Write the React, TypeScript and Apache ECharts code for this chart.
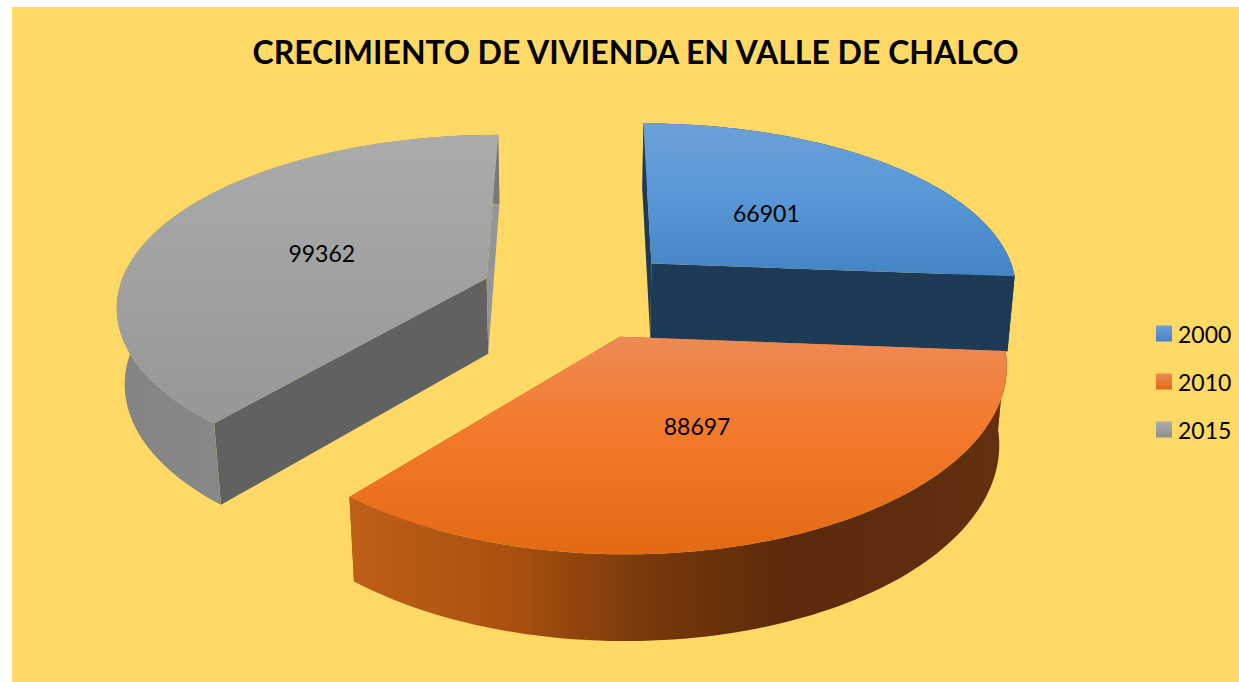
import React, { useEffect, useRef } from "react";
import * as echarts from "echarts";

const TITLE = "CRECIMIENTO DE VIVIENDA EN VALLE DE CHALCO";
const YEARS = ["2000", "2010", "2015"];
const HOUSING = [66901, 88697, 99362];

const FONT = "Lato, Carlito, 'Open Sans', sans-serif";

// Camera of the 3-D pie
const VIEW = { cx: 583, cy: 340, focal: 2367, sinT: 0.469, cosT: 0.883 };
const PIE = { ox: -3.5, oy: -103, radiusX: 383, radiusY: 391, bulge: 0.017, explode: 104, thickness: 90 };
const LABEL_AT = [0.465, 0.515, 0.49];
const LABEL_NUDGE = [[0, -2], [-8, -5], [-3, 2]];

type Stop = [number, string];
const TOP_COLORS: Stop[][] = [
  [[0, "#6CA0D9"], [0.5, "#5797D6"], [1, "#4484C4"]],
  [[0, "#EE8A55"], [0.43, "#F37A2B"], [1, "#E26A14"]],
  [[0, "#ABABAB"], [1, "#979797"]],
];
const WALL_COLORS: Stop[][] = [
  [[0, "#1D3A56"], [1, "#1D3A56"]],
  [[0, "#BF5F18"], [0.25, "#A9500F"], [0.45, "#78390B"], [0.67, "#5A2A0A"], [1, "#633010"]],
  [[0, "#848484"], [0.6, "#8C8C8C"], [1, "#787878"]],
];
const CUT_START = ["#1D3A56", "#A9500F", "#616161"];
const CUT_END = ["#1D3A56", "#A9500F", "#959595"];
const LEGEND_COLORS: [string, string][] = [
  ["#6CA0D9", "#4484C4"],
  ["#EE8A55", "#E26A14"],
  ["#ABABAB", "#8F8F8F"],
];

function project(x: number, y: number, z: number): [number, number] {
  const { cx, cy, focal, sinT, cosT } = VIEW;
  const depth = focal - y * cosT - z * sinT;
  return [cx + (focal * x) / depth, cy + (focal * (y * sinT - z * cosT)) / depth];
}

function grad(horizontal: boolean, a: number, b: number, stops: Stop[]) {
  return new echarts.graphic.LinearGradient(
    horizontal ? a : 0,
    horizontal ? 0 : a,
    horizontal ? b : 0,
    horizontal ? 0 : b,
    stops.map(([offset, color]) => ({ offset, color })),
    true
  );
}

function renderSlice(index: number) {
  return (_params: any, api: any) => {
    const value = api.value(0);
    const total = HOUSING.reduce((s, v) => s + v, 0);
    const before = HOUSING.slice(0, index).reduce((s, v) => s + v, 0);
    const a0 = (before / total) * Math.PI * 2;
    const a1 = ((before + value) / total) * Math.PI * 2;
    const mid = (a0 + a1) / 2;
    const { ox, oy, radiusX, radiusY, bulge, explode, thickness } = PIE;
    const cx = ox + explode * Math.sin(mid);
    const cy = oy - explode * Math.cos(mid);
    const at = (a: number, f: number, z: number) => {
      const c = -Math.cos(a);
      return project(
        cx + f * radiusX * Math.sin(a),
        cy + f * radiusY * c * (1 + bulge * c),
        z
      );
    };

    const steps = 90;
    const topArc: [number, number][] = [];
    const lowArc: [number, number][] = [];
    for (let i = 0; i <= steps; i++) {
      const a = a0 + ((a1 - a0) * i) / steps;
      topArc.push(at(a, 1, 0));
      lowArc.push(at(a, 1, -thickness));
    }
    const apexTop = project(cx, cy, 0);
    const apexLow = project(cx, cy, -thickness);
    const topPts = [apexTop, ...topArc];
    const wallPts = [...topArc, ...lowArc.slice().reverse()];
    const ys = topPts.map((p) => p[1]);
    const xs = wallPts.map((p) => p[0]);
    const label = at(mid, LABEL_AT[index], 0);

    return {
      type: "group",
      children: [
        {
          type: "polygon",
          shape: { points: [apexTop, topArc[0], lowArc[0], apexLow] },
          style: { fill: CUT_START[index] },
        },
        {
          type: "polygon",
          shape: { points: [apexTop, topArc[steps], lowArc[steps], apexLow] },
          style: { fill: CUT_END[index] },
        },
        {
          type: "polygon",
          shape: { points: wallPts },
          style: { fill: grad(true, Math.min(...xs), Math.max(...xs), WALL_COLORS[index]) },
        },
        {
          type: "polygon",
          shape: { points: topPts },
          style: { fill: grad(false, Math.min(...ys), Math.max(...ys), TOP_COLORS[index]) },
        },
        {
          type: "text",
          x: label[0] + LABEL_NUDGE[index][0],
          y: label[1] + LABEL_NUDGE[index][1],
          style: {
            text: String(value),
            fill: "#000000",
            font: `23px ${FONT}`,
            align: "center",
            verticalAlign: "middle",
          },
        },
      ],
    };
  };
}

export default function App() {
  const ref = useRef<HTMLDivElement>(null);
  useEffect(() => {
    const chart = echarts.init(ref.current!, undefined, { renderer: "svg" });
    chart.setOption({
      animation: false,
      backgroundColor: "#FFFFFF",
      graphic: [
        {
          type: "rect",
          z: -10,
          silent: true,
          shape: { x: 12, y: 7, width: 1227, height: 675 },
          style: { fill: "#FFD966" },
        },
      ],
      title: {
        text: TITLE,
        left: 630.5,
        top: 30,
        textAlign: "center",
        textStyle: { color: "#000000", fontFamily: FONT, fontWeight: "bold", fontSize: 32 },
      },
      legend: {
        orient: "vertical",
        left: 1156,
        top: 322,
        padding: 0,
        icon: "rect",
        itemWidth: 16,
        itemHeight: 16,
        itemGap: 25,
        selectedMode: false,
        data: YEARS,
        textStyle: { color: "#000000", fontFamily: FONT, fontSize: 23, padding: [0, 0, 0, 1] },
      },
      series: YEARS.map((name, i) => ({
        type: "custom",
        name,
        coordinateSystem: "none",
        silent: true,
        clip: false,
        itemStyle: {
          color: new echarts.graphic.LinearGradient(0, 0, 0, 1, [
            { offset: 0, color: LEGEND_COLORS[i][0] },
            { offset: 1, color: LEGEND_COLORS[i][1] },
          ]),
        },
        renderItem: renderSlice(i),
        data: [[HOUSING[i]]],
      })),
    });
    return () => chart.dispose();
  }, []);
  return (
    <div
      ref={ref}
      style={{ position: "fixed", left: 0, top: 0, width: 1239, height: 682 }}
    />
  );
}
